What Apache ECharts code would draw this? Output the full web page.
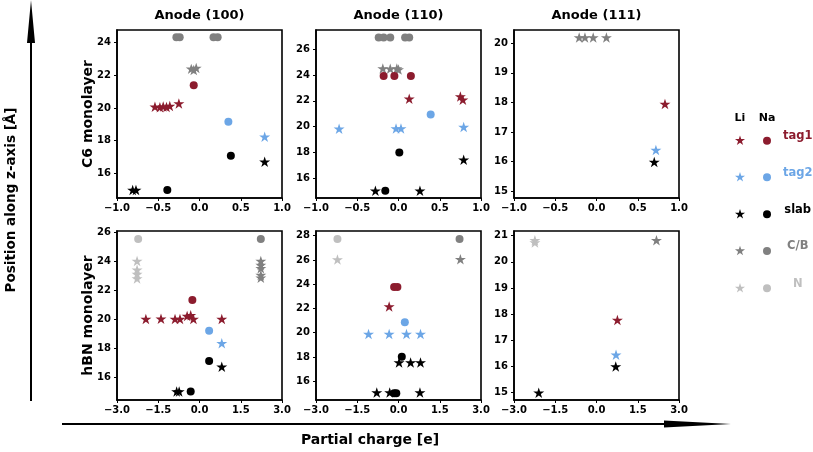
<!DOCTYPE html>
<html>
<head>
<meta charset="utf-8">
<script src="https://cdn.jsdelivr.net/npm/echarts@6/dist/echarts.min.js"></script>
<style>html,body{margin:0;padding:0;background:#fff}#c{width:813px;height:452px}</style>
</head>
<body>
<div id="c"></div>
<script>
// ---------- data (x = partial charge [e], y = position along z [Å]) ----------
// Panel 1: C6 monolayer, Anode (100)
const p1_tag1_Li = [[-0.54,20.08],[-0.48,20.05],[-0.44,20.10],[-0.40,20.07],[-0.36,20.12],[-0.25,20.28]];
const p1_tag1_Na = [[-0.07,21.39]];
const p1_tag2_Li = [[0.79,18.24]];
const p1_tag2_Na = [[0.35,19.16]];
const p1_slab_Li = [[-0.81,14.98],[-0.77,14.98],[0.79,16.71]];
const p1_slab_Na = [[-0.39,14.98],[0.38,17.08]];
const p1_CB_Li = [[-0.10,22.40],[-0.07,22.33],[-0.04,22.45]];
const p1_CB_Na = [[-0.28,24.33],[-0.24,24.33],[0.17,24.33],[0.22,24.33]];
// Panel 2: C6 monolayer, Anode (110)
const p2_tag1_Li = [[0.13,22.17],[0.75,22.35],[0.78,22.09]];
const p2_tag1_Na = [[-0.18,23.94],[-0.05,23.94],[0.15,23.94]];
const p2_tag2_Li = [[-0.72,19.83],[-0.03,19.85],[0.03,19.85],[0.79,19.96]];
const p2_tag2_Na = [[0.39,20.95]];
const p2_slab_Li = [[-0.28,15.00],[0.26,15.00],[0.79,17.41]];
const p2_slab_Na = [[-0.16,15.00],[0.01,17.98]];
const p2_CB_Li = [[-0.19,24.52],[-0.10,24.50],[-0.02,24.52],[0.00,24.45]];
const p2_CB_Na = [[-0.24,26.94],[-0.18,26.94],[-0.10,26.94],[0.08,26.94],[0.13,26.94]];
// Panel 3: C6 monolayer, Anode (111)
const p3_tag1_Li = [[0.83,17.95]];
const p3_tag2_Li = [[0.72,16.39]];
const p3_slab_Li = [[0.70,15.99]];
const p3_CB_Li = [[-0.21,20.20],[-0.14,20.20],[-0.04,20.20],[0.12,20.20]];
// Panel 4: hBN monolayer, Anode (100)
const p4_tag1_Li = [[-1.95,20.00],[-1.40,20.02],[-0.89,20.00],[-0.71,20.00],[-0.45,20.20],[-0.32,20.25],[-0.22,20.00],[0.81,20.00]];
const p4_tag1_Na = [[-0.26,21.31]];
const p4_tag2_Li = [[0.81,18.32]];
const p4_tag2_Na = [[0.35,19.19]];
const p4_slab_Li = [[-0.83,14.99],[-0.74,14.99],[0.81,16.71]];
const p4_slab_Na = [[-0.32,15.00],[0.35,17.10]];
const p4_CB_Li = [[2.23,24.00],[2.23,23.72],[2.23,23.50],[2.23,23.03],[2.23,22.85]];
const p4_CB_Na = [[2.23,25.52]];
const p4_N_Li = [[-2.27,24.00],[-2.27,23.40],[-2.27,23.10],[-2.27,22.80]];
const p4_N_Na = [[-2.23,25.52]];
// Panel 5: hBN monolayer, Anode (110)
const p5_tag1_Li = [[-0.34,22.17]];
const p5_tag1_Na = [[-0.16,23.77],[-0.04,23.77]];
const p5_tag2_Li = [[-1.09,19.90],[-0.34,19.90],[0.29,19.90],[0.80,19.90]];
const p5_tag2_Na = [[0.23,20.87]];
const p5_slab_Li = [[0.02,17.55],[0.44,17.55],[0.80,17.55],[-0.79,15.06],[-0.32,15.06],[0.78,15.06]];
const p5_slab_Na = [[0.12,18.02],[-0.16,15.00],[-0.08,15.00]];
const p5_CB_Li = [[2.25,26.06]];
const p5_CB_Na = [[2.22,27.72]];
const p5_N_Li = [[-2.22,26.04]];
const p5_N_Na = [[-2.22,27.72]];
// Panel 6: hBN monolayer, Anode (111)
const p6_tag1_Li = [[0.76,17.78]];
const p6_tag2_Li = [[0.71,16.45]];
const p6_slab_Li = [[0.70,16.00],[-2.10,15.00]];
const p6_CB_Li = [[2.18,20.83]];
const p6_N_Li = [[-2.24,20.83],[-2.24,20.74]];

// axis ranges and ticks
const colTitles = ['Anode (100)','Anode (110)','Anode (111)'];
const rowTitles = ['C6 monolayer','hBN monolayer'];
const xRangeC6 = [-1.0, 1.0], xTickStepC6 = 0.5;
const xRangeHBN = [-3.0, 3.0], xTickStepHBN = 1.5;
const yRanges = [[14.49,24.78],[14.44,27.52],[14.77,20.45],[14.41,26.07],[14.45,28.39],[14.72,21.18]];
const yTicks = [[16,18,20,22,24],[16,18,20,22,24,26],[15,16,17,18,19,20],[16,18,20,22,24,26],[16,18,20,22,24,26,28],[15,16,17,18,19,20,21]];
const legendLabels = ['tag1','tag2','slab','C/B','N'];

// ---------- styling ----------
const COL = {tag1:'#8c1c2e', tag2:'#6ca6e6', slab:'#000000', CB:'#808080', N:'#bfbfbf'};
const STAR_PTS = [[0,-100],[22.45,-30.9],[95.1,-30.9],[36.33,11.8],[58.78,80.9],[0,38.2],[-58.78,80.9],[-36.33,11.8],[-95.1,-30.9],[-22.45,-30.9]];
const STAR = 'path://M' + STAR_PTS.map(p => p.join(',')).join('L') + 'Z';
const FONT = '"DejaVu Sans", sans-serif';
const gridPos = [
  {left:117, top:30, width:165, height:168},
  {left:316, top:30, width:165, height:168},
  {left:514, top:30, width:165, height:168},
  {left:117, top:231, width:165, height:169},
  {left:316, top:231, width:165, height:169},
  {left:514, top:231, width:165, height:169}
];

const fmtX = v => (v < 0 ? '\u2212' : '') + Math.abs(v).toFixed(1);
const grids = [], xAxes = [], yAxes = [], series = [];
gridPos.forEach((g, i) => {
  grids.push(Object.assign({show:true, borderColor:'#000', borderWidth:1.6, backgroundColor:'transparent'}, g));
  const c6 = i < 3;
  const xr = c6 ? xRangeC6 : xRangeHBN;
  xAxes.push({
    gridIndex:i, type:'value', min:xr[0], max:xr[1], interval: c6 ? xTickStepC6 : xTickStepHBN,
    axisLine:{show:true, onZero:false, lineStyle:{color:'#000', width:1.6}},
    axisTick:{show:true, length:3, lineStyle:{color:'#000', width:1}},
    axisLabel:{fontSize:10, fontWeight:'bold', fontFamily:FONT, color:'#000', margin:5, formatter:fmtX, showMinLabel:true, showMaxLabel:true},
    splitLine:{show:false}
  });
  yAxes.push({
    gridIndex:i, type:'value', min:yRanges[i][0], max:yRanges[i][1],
    axisLine:{show:true, onZero:false, lineStyle:{color:'#000', width:1.6}},
    axisTick:{show:true, length:3, lineStyle:{color:'#000', width:1}, customValues:yTicks[i]},
    axisLabel:{fontSize:10, fontWeight:'bold', fontFamily:FONT, color:'#000', margin:6, customValues:yTicks[i], formatter:v => String(Math.round(v))},
    splitLine:{show:false}
  });
});

function add(gi, data, key, star) {
  series.push({
    type:'scatter', xAxisIndex:gi, yAxisIndex:gi, data:data, silent:true, clip:false,
    symbol: star ? STAR : 'circle', symbolKeepAspect:true, symbolSize: star ? 11 : 8,
    itemStyle:{color:COL[key], opacity:1}
  });
}
add(0,p1_CB_Na,'CB',false); add(0,p1_CB_Li,'CB',true);
add(0,p1_tag1_Na,'tag1',false); add(0,p1_tag1_Li,'tag1',true);
add(0,p1_tag2_Na,'tag2',false); add(0,p1_tag2_Li,'tag2',true);
add(0,p1_slab_Na,'slab',false); add(0,p1_slab_Li,'slab',true);

add(1,p2_CB_Na,'CB',false); add(1,p2_CB_Li,'CB',true);
add(1,p2_tag1_Na,'tag1',false); add(1,p2_tag1_Li,'tag1',true);
add(1,p2_tag2_Na,'tag2',false); add(1,p2_tag2_Li,'tag2',true);
add(1,p2_slab_Na,'slab',false); add(1,p2_slab_Li,'slab',true);

add(2,p3_CB_Li,'CB',true); add(2,p3_tag1_Li,'tag1',true);
add(2,p3_tag2_Li,'tag2',true); add(2,p3_slab_Li,'slab',true);

add(3,p4_N_Na,'N',false); add(3,p4_N_Li,'N',true);
add(3,p4_CB_Na,'CB',false); add(3,p4_CB_Li,'CB',true);
add(3,p4_tag1_Na,'tag1',false); add(3,p4_tag1_Li,'tag1',true);
add(3,p4_tag2_Na,'tag2',false); add(3,p4_tag2_Li,'tag2',true);
add(3,p4_slab_Na,'slab',false); add(3,p4_slab_Li,'slab',true);

add(4,p5_N_Na,'N',false); add(4,p5_N_Li,'N',true);
add(4,p5_CB_Na,'CB',false); add(4,p5_CB_Li,'CB',true);
add(4,p5_tag1_Na,'tag1',false); add(4,p5_tag1_Li,'tag1',true);
add(4,p5_tag2_Na,'tag2',false); add(4,p5_tag2_Li,'tag2',true);
add(4,p5_slab_Na,'slab',false); add(4,p5_slab_Li,'slab',true);

add(5,p6_N_Li,'N',true); add(5,p6_CB_Li,'CB',true);
add(5,p6_tag1_Li,'tag1',true); add(5,p6_tag2_Li,'tag2',true); add(5,p6_slab_Li,'slab',true);

// ---------- graphic: titles, row labels, arrows, legend ----------
const gfx = [];
function txt(x, y, text, size, color, rot, align) {
  gfx.push({type:'text', x:x, y:y, rotation: rot || 0, silent:true,
    style:{text:text, fill:color || '#000', fontSize:size, fontWeight:'bold', fontFamily:FONT,
      align: align || 'center', verticalAlign:'middle'}});
}
colTitles.forEach((t, i) => txt(gridPos[i].left + gridPos[i].width/2, 16, t, 13));
rowTitles.forEach((t, i) => txt(88, gridPos[i*3].top + gridPos[i*3].height/2, t, 14, '#000', Math.PI/2));
txt(11, 200, 'Position along z-axis [\u00c5]', 13.5, '#000', Math.PI/2);
txt(370, 440, 'Partial charge [e]', 14);
// arrows
gfx.push({type:'line', silent:true, shape:{x1:31, y1:401, x2:31, y2:40}, style:{stroke:'#000', lineWidth:2}});
gfx.push({type:'polygon', silent:true, shape:{points:[[27,43],[35,43],[31,0]]}, style:{fill:'#000'}});
gfx.push({type:'line', silent:true, shape:{x1:62, y1:424, x2:666, y2:424}, style:{stroke:'#000', lineWidth:2}});
gfx.push({type:'polygon', silent:true, shape:{points:[[664,420.5],[664,427.5],[731,424]]}, style:{fill:'#000'}});
// legend
txt(740, 118, 'Li', 11);
txt(767, 118, 'Na', 11);
const legKeys = ['tag1','tag2','slab','CB','N'];
const legY = [140.7, 177.3, 214.3, 251, 288.3];
legKeys.forEach((k, i) => {
  const s = 0.053;
  gfx.push({type:'polygon', silent:true, shape:{points:STAR_PTS.map(p => [740 + p[0]*s, legY[i] + p[1]*s])}, style:{fill:COL[k]}});
  gfx.push({type:'circle', silent:true, shape:{cx:767, cy:legY[i], r:4}, style:{fill:COL[k]}});
  txt(797.7, legY[i]-4.5, legendLabels[i], 11.5, COL[k]);
});

const chart = echarts.init(document.getElementById('c'), null, {renderer:'canvas'});
chart.setOption({
  animation:false, backgroundColor:'#fff',
  grid:grids, xAxis:xAxes, yAxis:yAxes, series:series, graphic:gfx
});
</script>
</body>
</html>
